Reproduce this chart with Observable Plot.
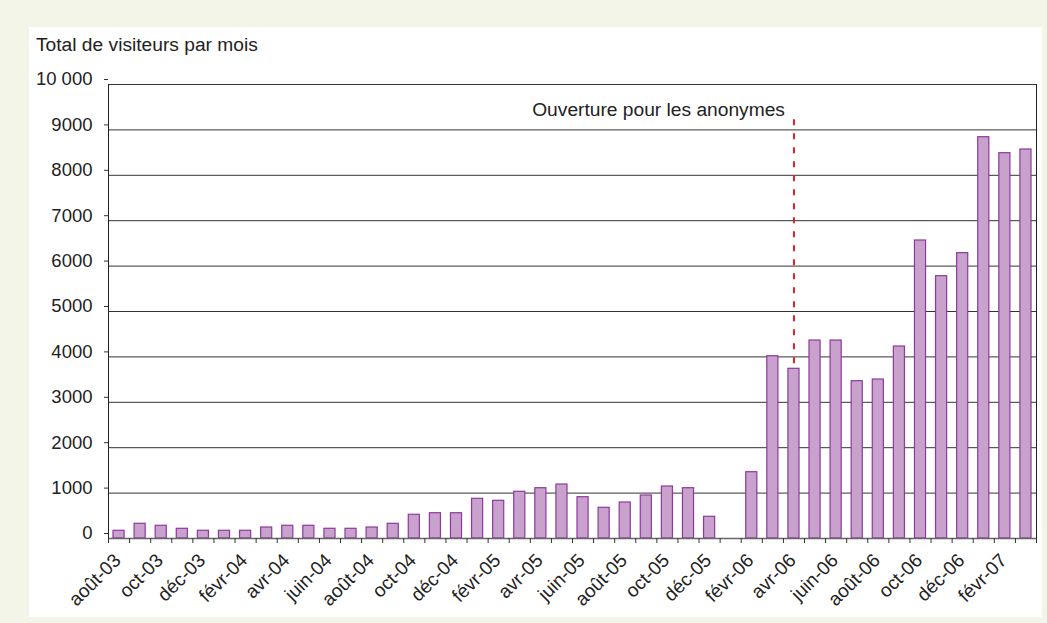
<!DOCTYPE html>
<html>
<head>
<meta charset="utf-8">
<script src="https://cdn.jsdelivr.net/npm/d3@7"></script>
<script src="https://cdn.jsdelivr.net/npm/@observablehq/plot@0.6"></script>
<style>
  html, body { margin: 0; padding: 0; }
  body { width: 1047px; height: 623px; background: #f3f5e8; position: relative; overflow: hidden;
         font-family: "Liberation Sans", Arial, Helvetica, sans-serif; color: #222; }
  #panel { position: absolute; left: 29px; top: 27px; width: 1013px; height: 590px; background: #fff; }
  #title { position: absolute; left: 36px; top: 35px; font-size: 19.2px; line-height: 19.2px; white-space: nowrap; }
  #chart { position: absolute; left: 0; top: 0; }
</style>
</head>
<body>
<div id="panel"></div>
<div id="title">Total de visiteurs par mois</div>
<div id="chart"></div>
<script>
// Months (categories)
const months = ["août-03","sept-03","oct-03","nov-03","déc-03","janv-04","févr-04","mars-04","avr-04","mai-04",
  "juin-04","juil-04","août-04","sept-04","oct-04","nov-04","déc-04","janv-05","févr-05","mars-05",
  "avr-05","mai-05","juin-05","juil-05","août-05","sept-05","oct-05","nov-05","déc-05","janv-06",
  "févr-06","mars-06","avr-06","mai-06","juin-06","juil-06","août-06","sept-06","oct-06","nov-06",
  "déc-06","janv-07","févr-07","mars-07"];
// Total visitors per month (janv-06 missing)
const visitors = [170,324,280,214,170,170,170,242,280,280,
  214,214,242,324,522,557,557,874,830,1029,
  1108,1189,910,676,793,947,1145,1108,478,null,
  1460,4015,3738,4361,4361,3465,3502,4229,6564,5778,
  6285,8839,8487,8568];
// Y axis ticks and labels
const yTicks = [0,1000,2000,3000,4000,5000,6000,7000,8000,9000,10000];
const yTickLabels = ["0","1000","2000","3000","4000","5000","6000","7000","8000","9000","10 000"];
// Annotation
const annotationMonth = "avr-06";
const annotationText = "Ouverture pour les anonymes";
const annotationTextY = 9450;
const annotationRuleY1 = 3850;
const annotationRuleY2 = 9350;

const data = months.map((m, i) => ({month: m, i, value: visitors[i]}));
const labelData = data.filter(d => d.i % 2 === 0);
const annIndex = months.indexOf(annotationMonth);

const chart = Plot.plot({
  width: 1047,
  height: 623,
  marginLeft: 108,
  marginRight: 11,
  marginTop: 84,
  marginBottom: 85,
  style: {background: "transparent", font: "18.5px 'Liberation Sans', Arial, Helvetica, sans-serif", color: "#222"},
  x: {type: "linear", domain: [0, months.length]},
  y: {domain: [0, 10000]},
  marks: [
    Plot.gridY({ticks: yTicks.filter(v => v > 0), stroke: "#333", strokeOpacity: 1}),
    Plot.axisY({ticks: yTicks, label: null, tickFormat: (d) => yTickLabels[yTicks.indexOf(d)], tickSize: 4, tickPadding: 12, dy: -5, stroke: "#333", fill: "#222"}),
    Plot.rectY(data.filter(d => d.value != null), {
      x1: d => d.i, x2: d => d.i + 1, y: "value",
      insetLeft: 5, insetRight: 5,
      fill: "#c9a1cd", stroke: "#8d399c", strokeWidth: 1.2
    }),
    Plot.ruleY([0], {stroke: "#666", strokeWidth: 1.5}),
    Plot.axisX({ticks: d3.range(months.length + 1), label: null, tickSize: 5, tickFormat: () => "", stroke: "#333"}),
    Plot.ruleX([0, months.length], {stroke: "#222"}),
    Plot.text(labelData, {
      x: d => d.i + 0.5, text: "month", frameAnchor: "bottom",
      rotate: -45, textAnchor: "end", dx: 3, dy: 23, fontSize: 19, fill: "#222"
    }),
    Plot.ruleX([annIndex + 0.5], {y1: annotationRuleY1, y2: annotationRuleY2, stroke: "#d6232b", strokeWidth: 2, strokeDasharray: "6,8"}),
    Plot.text([annotationText], {x: annIndex + 0.5, y: annotationTextY, text: d => d, textAnchor: "end", dx: -9, fontSize: 19.2, fill: "#222"})
  ]
});
document.getElementById("chart").appendChild(chart);
</script>
</body>
</html>
